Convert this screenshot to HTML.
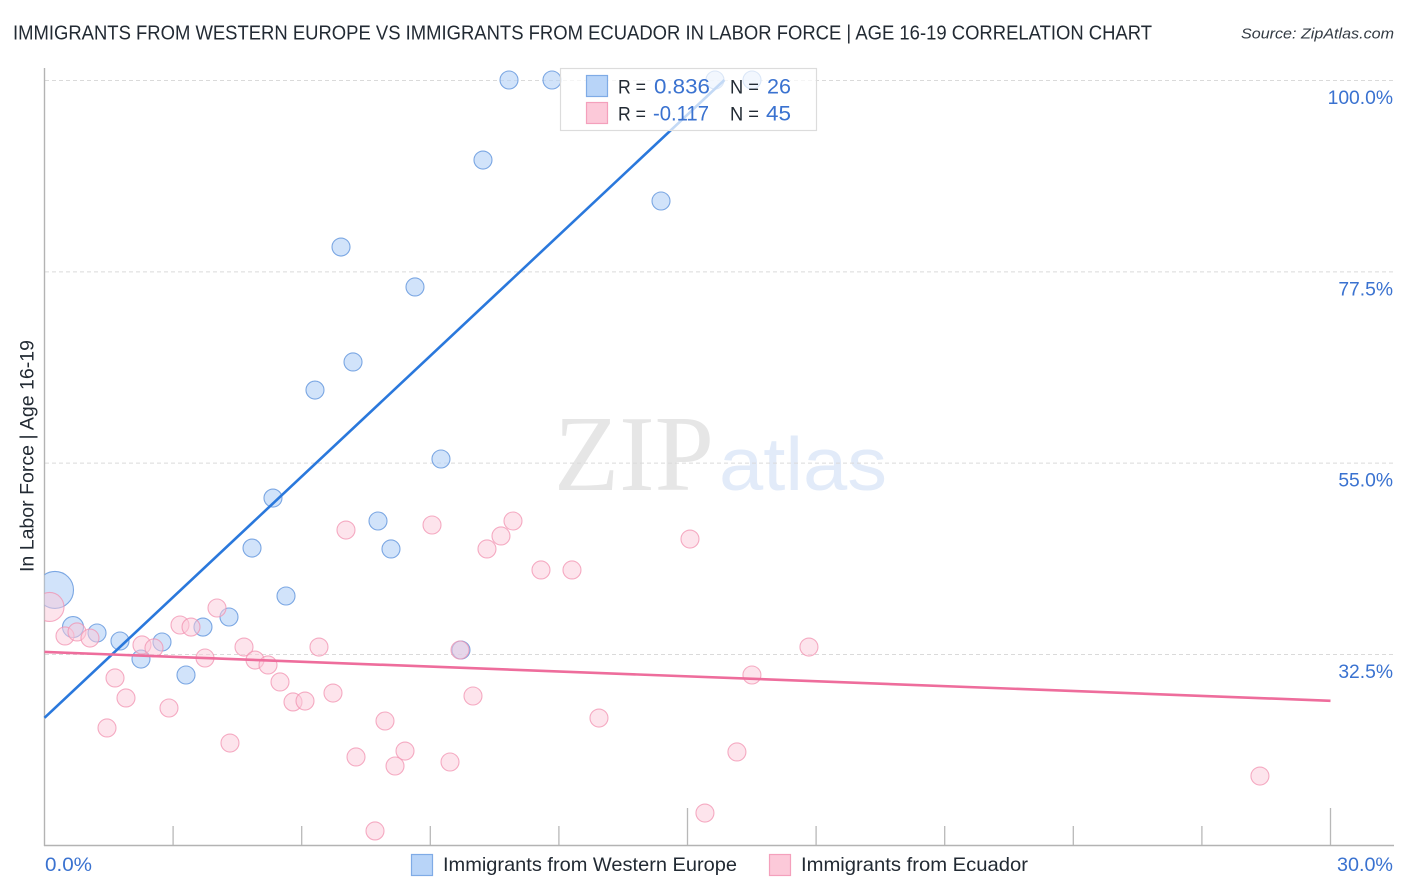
<!DOCTYPE html>
<html lang="en">
<head>
<meta charset="utf-8">
<title>Immigrants from Western Europe vs Immigrants from Ecuador in Labor Force | Age 16-19 Correlation Chart</title>
<style>
html,body{margin:0;padding:0;background:#fff;width:1406px;height:892px;overflow:hidden}
svg{display:block;font-family:"Liberation Sans",sans-serif}
</style>
</head>
<body>
<svg id="chart" xmlns="http://www.w3.org/2000/svg" width="1406" height="892" viewBox="0 0 1406 892">
  <defs>
    <clipPath id="plot-clip"><rect x="44.5" y="60" width="1350" height="785"/></clipPath>
  </defs>
  <rect x="0" y="0" width="1406" height="892" fill="#ffffff"/>
  <text x="13" y="39.5" font-size="20" fill="#222a33" textLength="1139" lengthAdjust="spacingAndGlyphs">IMMIGRANTS FROM WESTERN EUROPE VS IMMIGRANTS FROM ECUADOR IN LABOR FORCE | AGE 16-19 CORRELATION CHART</text>
  <text x="1241" y="38.5" font-size="15" font-style="italic" fill="#333b44" textLength="153" lengthAdjust="spacingAndGlyphs">Source: ZipAtlas.com</text>
  <g>
    <text x="554" y="490" font-family="'Liberation Serif',serif" font-size="108" fill="#e6e6e6" textLength="160" lengthAdjust="spacingAndGlyphs">ZIP</text>
    <text x="719" y="490" font-size="75" fill="#e2ebf9" textLength="168" lengthAdjust="spacingAndGlyphs">atlas</text>
  </g>
  <g id="grid"></g>
  <g id="axes">
    <line x1="44.5" y1="68" x2="44.5" y2="846" stroke="#b3b3b3" stroke-width="1.4"/>
    <line x1="44" y1="845.5" x2="1394" y2="845.5" stroke="#b3b3b3" stroke-width="1.4"/>
  </g>
  <g id="x-ticks"></g>
  <g id="y-labels"></g>
  <g id="x-labels"></g>
  <text transform="translate(33.5,572) rotate(-90)" x="0" y="0" font-size="19" fill="#222a33" textLength="232" lengthAdjust="spacingAndGlyphs">In Labor Force | Age 16-19</text>
  <g id="points-blue" clip-path="url(#plot-clip)"></g>
  <g id="points-pink" clip-path="url(#plot-clip)"></g>
  <line id="trend-blue" stroke="#2a78dc" stroke-width="2.6"/>
  <line id="trend-pink" stroke="#ee6d9c" stroke-width="2.6"/>

  <g>
    <rect x="560.5" y="68.5" width="256" height="62" fill="#ffffff" fill-opacity="0.72" stroke="#dcdcdc" stroke-width="1.2"/>
    <rect x="586.5" y="75.5" width="21" height="21" fill="#b8d4f8" stroke="#7fabe6" stroke-width="1.2"/>
    <rect x="586.5" y="102.5" width="21" height="21" fill="#fcc9d9" stroke="#f4a0bc" stroke-width="1.2"/>
    <text x="618" y="93.5" font-size="19" fill="#222a33" textLength="28" lengthAdjust="spacingAndGlyphs">R =</text>
    <text x="654" y="93.5" font-size="21" fill="#3a72d0" textLength="56" lengthAdjust="spacingAndGlyphs">0.836</text>
    <text x="730" y="93.5" font-size="19" fill="#222a33" textLength="29" lengthAdjust="spacingAndGlyphs">N =</text>
    <text x="767" y="93.5" font-size="21" fill="#3a72d0" textLength="24" lengthAdjust="spacingAndGlyphs">26</text>
    <text x="618" y="120.5" font-size="19" fill="#222a33" textLength="28" lengthAdjust="spacingAndGlyphs">R =</text>
    <text x="653" y="120.5" font-size="21" fill="#3a72d0" textLength="56" lengthAdjust="spacingAndGlyphs">-0.117</text>
    <text x="730" y="120.5" font-size="19" fill="#222a33" textLength="29" lengthAdjust="spacingAndGlyphs">N =</text>
    <text x="766" y="120.5" font-size="21" fill="#3a72d0" textLength="25" lengthAdjust="spacingAndGlyphs">45</text>
  </g>

  <g>
    <rect x="411.5" y="854.5" width="21" height="21" fill="#b8d4f8" stroke="#7fabe6" stroke-width="1.2"/>
    <text x="443" y="871" font-size="19.5" fill="#222a33" textLength="294" lengthAdjust="spacingAndGlyphs">Immigrants from Western Europe</text>
    <rect x="769.5" y="854.5" width="21" height="21" fill="#fcc9d9" stroke="#f4a0bc" stroke-width="1.2"/>
    <text x="801" y="871" font-size="19.5" fill="#222a33" textLength="227" lengthAdjust="spacingAndGlyphs">Immigrants from Ecuador</text>
  </g>
</svg>
<script>
const yTickValues = [100, 77.5, 55, 32.5];
const yTickLabels = ["100.0%", "77.5%", "55.0%", "32.5%"];
const xTickValues = [3, 6, 9, 12, 15, 18, 21, 24, 27, 30];
const xMajorTicks = [15, 30];
const xEdgeLabels = ["0.0%", "30.0%"];

const blueX = [0.245,0.665,1.225,1.761,2.251,2.741,3.301,3.697,4.304,4.841,5.634,5.330,6.310,7.197,6.917,8.643,7.780,8.083,9.249,9.716,10.229,10.836,11.839,14.382,15.641,16.505];
const blueY = [40.03,35.67,34.97,34.03,31.91,33.91,30.03,35.67,36.85,44.96,39.32,50.84,63.54,66.84,80.36,75.66,48.14,44.85,55.43,32.97,90.59,100,100,85.77,100,100];
const blueWeight = [18.5,10.5,9,9,9,9,9,9,9,9,9,9,9,9,9,9,9,9,9,9,9,9,9,9,9,9];

const pinkX = [0.117,0.478,0.758,1.061,1.645,1.901,1.458,2.274,2.554,2.904,3.161,3.418,3.744,4.024,4.327,4.654,4.911,5.214,5.494,5.797,6.077,6.403,6.730,7.033,7.267,7.710,7.943,8.177,8.410,9.040,9.460,9.693,9.996,10.322,10.649,10.929,11.582,12.305,12.935,15.058,15.407,16.153,16.503,17.833,28.354];
const pinkY = [38.03,34.62,35.09,34.38,29.68,27.33,23.80,33.56,33.21,26.15,35.91,35.67,32.03,37.91,22.03,33.32,31.79,31.21,29.21,26.86,26.97,33.32,27.91,47.08,20.39,11.69,24.62,19.33,21.09,47.67,19.80,32.97,27.56,44.85,46.38,48.14,42.38,42.38,24.97,46.02,13.80,20.98,30.03,33.32,18.15];
const pinkWeight = [14.5,9,9,9,9,9,9,9,9,9,9,9,9,9,9,9,9,9,9,9,9,9,9,9,9,9,9,9,9,9,9,9,9,9,9,9,9,9,9,9,9,9,9,9,9];

const blueTrendX = [0, 15.86];
const blueTrendY = [25.0, 100];
const pinkTrendX = [0, 30];
const pinkTrendY = [32.74, 27.0];

const SVGNS = "http://www.w3.org/2000/svg";
function xScale(v) { return 44.5 + v * (1286 / 30); }
function yScale(v) { return 654 + (32.5 - v) * (574 / 67.5); }
function make(tag, parentId, attrs) {
  const el = document.createElementNS(SVGNS, tag);
  for (const k in attrs) el.setAttribute(k, attrs[k]);
  document.getElementById(parentId).appendChild(el);
  return el;
}

yTickValues.forEach(function (v, i) {
  const grid = make("line", "grid", { x1: 45, x2: 1394, y1: yScale(v) + 0.5, y2: yScale(v) + 0.5, stroke: "#dadada", "stroke-width": 1, "stroke-dasharray": "4 3" });
  
  
  const label = make("text", "y-labels", { x: 1393, y: yScale(v) + 24, "text-anchor": "end", "font-size": 19.3, fill: "#3a72d0" });
  label.textContent = yTickLabels[i];
  
  
});

xTickValues.forEach(function (v) {
  const top = xMajorTicks.indexOf(v) >= 0 ? 808 : 826;
  const tick = make("line", "x-ticks", { x1: xScale(v), x2: xScale(v), y1: top, y2: 845, stroke: "#b8b8b8", "stroke-width": 1.3 });
  
  
});

const xLabelLeft = make("text", "x-labels", { x: 45, y: 871, "font-size": 19.5, fill: "#3a72d0", textLength: 47, lengthAdjust: "spacingAndGlyphs" });
xLabelLeft.textContent = xEdgeLabels[0];


const xLabelRight = make("text", "x-labels", { x: 1337, y: 871, "font-size": 19.5, fill: "#3a72d0", textLength: 56, lengthAdjust: "spacingAndGlyphs" });
xLabelRight.textContent = xEdgeLabels[1];



blueX.forEach(function (v, i) {
  const c = make("circle", "points-blue", { cx: xScale(v), cy: yScale(blueY[i]), r: blueWeight[i], fill: "#b8d4f8", "fill-opacity": 0.65, stroke: "#6f9fe0", "stroke-opacity": 0.9, "stroke-width": 1.1 });
  
  
});
pinkX.forEach(function (v, i) {
  const c = make("circle", "points-pink", { cx: xScale(v), cy: yScale(pinkY[i]), r: pinkWeight[i], fill: "#fcc9d9", "fill-opacity": 0.5, stroke: "#f291b0", "stroke-opacity": 0.75, "stroke-width": 1.1 });
  
  
});

function setTrend(id, xs, ys) {
  const l = document.getElementById(id);
  l.setAttribute("x1", xScale(xs[0]));
  l.setAttribute("y1", yScale(ys[0]));
  l.setAttribute("x2", xScale(xs[1]));
  l.setAttribute("y2", yScale(ys[1]));
}
setTrend("trend-blue", blueTrendX, blueTrendY);
setTrend("trend-pink", pinkTrendX, pinkTrendY);
</script>
</body>
</html>
